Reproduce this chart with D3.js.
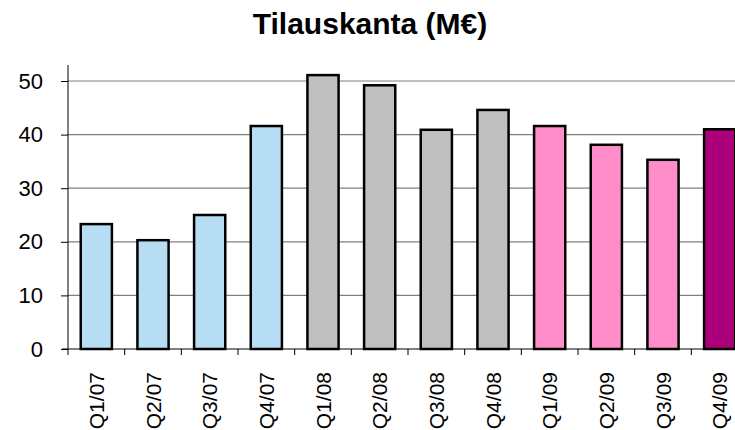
<!DOCTYPE html>
<html>
<head>
<meta charset="utf-8">
<script src="https://cdn.jsdelivr.net/npm/d3@7"></script>
<style>
  body { margin: 0; background: #fff; }
  svg { display: block; font-family: Arial, "Liberation Sans", sans-serif; }
</style>
</head>
<body>
<script>
var quarters = ["Q1/07", "Q2/07", "Q3/07", "Q4/07", "Q1/08", "Q2/08", "Q3/08", "Q4/08", "Q1/09", "Q2/09", "Q3/09", "Q4/09"];
var values = [23.3, 20.3, 25.0, 41.6, 51.1, 49.2, 40.9, 44.6, 41.6, 38.1, 35.3, 41.0];
var barColors = ["#b7ddf5", "#b7ddf5", "#b7ddf5", "#b7ddf5", "#c0c0c0", "#c0c0c0", "#c0c0c0", "#c0c0c0", "#ff8dc9", "#ff8dc9", "#ff8dc9", "#ab007a"];
var yTicks = [0, 10, 20, 30, 40, 50];

var w = 735, h = 430;
var plotLeft = 68, plotRight = 748, plotTop = 81, plotBottom = 349;

var svg = d3.select("body").append("svg")
    .attr("width", w)
    .attr("height", h);

svg.append("text")
    .attr("x", 370)
    .attr("y", 34)
    .attr("text-anchor", "middle")
    .style("font-size", "30px")
    .style("font-weight", "bold")
    .text("Tilauskanta (M\u20ac)");

var x = d3.scaleBand()
    .domain(quarters)
    .range([plotLeft, plotRight])
    .paddingInner(0.45)
    .paddingOuter(0.225);

var y = d3.scaleLinear()
    .domain([0, 50])
    .range([plotBottom, plotTop]);

// gridlines
svg.selectAll(".grid")
    .data(yTicks.filter(function(d) { return d > 0; }))
    .enter()
    .append("line")
    .attr("x1", plotLeft)
    .attr("x2", w)
    .attr("y1", function(d) { return y(d); })
    .attr("y2", function(d) { return y(d); })
    .attr("stroke", "#808080")
    .attr("stroke-width", 1.2);

// y axis
var yAxis = svg.append("g")
    .attr("transform", "translate(" + plotLeft + ",0)")
    .call(d3.axisLeft(y).tickValues(yTicks).tickSize(7).tickPadding(18));
yAxis.select(".domain").attr("d", "M0," + (plotTop - 16) + "V" + plotBottom).attr("stroke", "#000");
yAxis.selectAll(".tick line").attr("stroke", "#000");
yAxis.selectAll(".tick text")
    .style("font-size", "22px")
    .style("font-family", "Arial, 'Liberation Sans', sans-serif")
    .attr("fill", "#000");

// bars
svg.selectAll(".bar")
    .data(values)
    .enter()
    .append("rect")
    .attr("x", function(d, i) { return x(quarters[i]); })
    .attr("y", function(d) { return y(d); })
    .attr("width", x.bandwidth())
    .attr("height", function(d) { return plotBottom - y(d); })
    .attr("fill", function(d, i) { return barColors[i]; })
    .attr("stroke", "#000")
    .attr("stroke-width", 2.5);

// x axis
var step = x.step();
var xAxis = svg.append("g")
    .attr("transform", "translate(0," + plotBottom + ")");
xAxis.append("line")
    .attr("x1", plotLeft - 6)
    .attr("x2", w)
    .attr("y1", 0)
    .attr("y2", 0)
    .attr("stroke", "#000")
    .attr("stroke-width", 1.2);
xAxis.selectAll(".xtick")
    .data(d3.range(quarters.length + 1))
    .enter()
    .append("line")
    .attr("x1", function(i) { return plotLeft + i * step; })
    .attr("x2", function(i) { return plotLeft + i * step; })
    .attr("y1", 0)
    .attr("y2", 6)
    .attr("stroke", "#000");

xAxis.selectAll(".xlabel")
    .data(quarters)
    .enter()
    .append("text")
    .attr("transform", function(d) {
        return "translate(" + (x(d) + x.bandwidth() / 2) + ",23) rotate(-90)";
    })
    .attr("dy", "0.36em")
    .attr("text-anchor", "end")
    .style("font-size", "21px")
    .text(function(d) { return d; });
</script>
</body>
</html>
